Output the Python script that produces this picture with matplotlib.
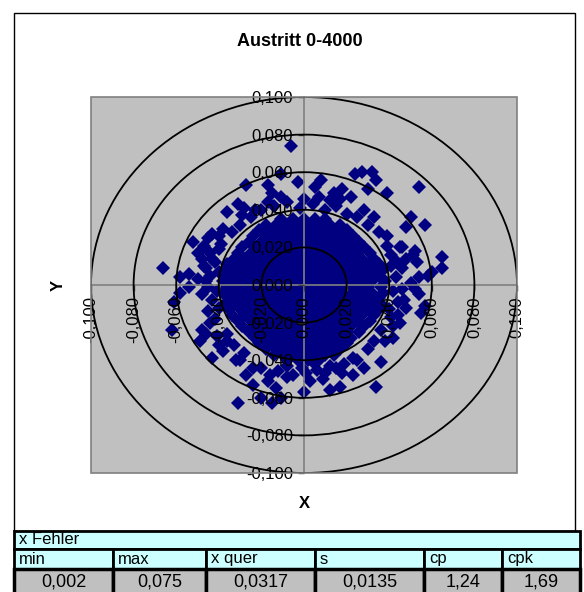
import numpy as np
import matplotlib.pyplot as plt
from matplotlib.patches import Circle, Rectangle
from matplotlib.ticker import FuncFormatter, MultipleLocator

plt.rcParams['font.family'] = ['Liberation Sans', 'DejaVu Sans']

title = "Austritt 0-4000"
ring_radii = [0.02, 0.04, 0.06, 0.08, 0.10]

# dense centre of the cloud, read row by row (values in 1/1000)
core_y = [35, 32, 29, 26, 23, 20, 17, 14, 11, 8, 5, 2, -1,
          -4, -7, -10, -13, -16, -19, -22, -25, -28, -31, -34, -37, -40]
core_x = [
    [-11, -5, 0, 5, 10],
    [-18, -13, -8, -3, 2, 7, 12, 17],
    [-21, -15, -10, -5, 0, 5, 10, 15, 20],
    [-24, -18, -13, -8, -3, 2, 7, 12, 17, 23],
    [-26, -20, -15, -10, -5, 0, 5, 10, 15, 20, 26],
    [-29, -23, -18, -13, -8, -3, 2, 7, 12, 17, 22, 28],
    [-31, -25, -20, -15, -10, -5, 0, 5, 10, 15, 20, 25, 31],
    [-33, -28, -23, -18, -13, -8, -3, 2, 7, 12, 17, 22, 27, 33],
    [-36, -30, -25, -20, -15, -10, -5, 0, 5, 10, 15, 20, 25, 30, 35],
    [-37, -33, -28, -23, -18, -13, -8, -3, 2, 7, 12, 17, 22, 27, 32, 37],
    [-35, -30, -25, -20, -15, -10, -5, 0, 5, 10, 15, 20, 25, 30, 35],
    [-38, -33, -28, -23, -18, -13, -8, -3, 2, 7, 12, 17, 22, 27, 32, 38],
    [-36, -30, -25, -20, -15, -10, -5, 0, 5, 10, 15, 20, 25, 30, 36],
    [-38, -33, -28, -23, -18, -13, -8, -3, 2, 7, 12, 17, 22, 27, 32, 37],
    [-35, -30, -25, -20, -15, -10, -5, 0, 5, 10, 15, 20, 25, 30, 35],
    [-37, -33, -28, -23, -18, -13, -8, -3, 2, 7, 12, 17, 22, 27, 32, 36],
    [-35, -30, -25, -20, -15, -10, -5, 0, 5, 10, 15, 20, 25, 30, 35],
    [-34, -28, -23, -18, -13, -8, -3, 2, 7, 12, 17, 22, 27, 33],
    [-31, -25, -20, -15, -10, -5, 0, 5, 10, 15, 20, 25, 31],
    [-29, -23, -18, -13, -8, -3, 2, 7, 12, 17, 22, 28],
    [-26, -20, -15, -10, -5, 0, 5, 10, 15, 20, 26],
    [-23, -18, -13, -8, -3, 2, 7, 12, 17, 22],
    [-21, -15, -10, -5, 0, 5, 10, 15, 20],
    [-18, -13, -8, -3, 2, 7, 12, 17],
    [-14, -10, -5, 0, 5, 10, 14],
    [-8, -3, 2, 7],
]

# scattered points around the centre (values in 1/1000)
outer_x = [-6, -27, -17, -11, -15, -3, 8, 5, 14, 24, 27, 32, 34, 39, 30, 18, 22, 7, 54,
           -31, -36, -29, -43, -40, -52, -47, -50, -66, -58, -54, -50, -40, -48, -43,
           -54, -58, -61, -46, -45,
           -62, -48, -49, -43, -38, -30, -27, -24, -31, -17, -13, -11, -20, -15, -8,
           54, 57, 55, 41, 36, 23, 34, 17, 12, 10, 3, 15, 19, 0, -1, 23, 4,
           50, 57, 48, 65, 65, 60, 39, 51, 45, 43, 53, 58, 52, 48, 52, 46, 54, 50,
           -42, -44, -41, -43, -40, -42, -39, -45, -40, -46,
           41, 43, 42, 44, 40, 41, 39, 46, 42,
           -20, -14, -8, -2, 4, 10, 15, 20, 25, -25, -30, 30, 35, -34,
           -20, -12, -5, 6, 12, 25, -28, 30, 33, -33, -36, 36,
           -44, -46, -41, -47, -44, -48, -45, -38, -36, -40,
           44, 42, 46, 47, 38, 45, 48,
           -17, -11, 0, 12, 17, -23, 28, 33, -28,
           -16, -8, 1, 9, 18, -24, 28, -32]
outer_y = [74, 53, 53, 59, 49, 55, 56, 52, 49, 59, 60, 60, 56, 49, 51, 51, 47, 47, 52,
           43, 39, 37, 27, 26, 23, 21, 17, 9, 4, 6, 3, 19, 14, 14,
           -1, -4, -9, 9, -1,
           -24, -24, -30, -39, -35, -40, -48, -53, -63, -51, -55, -60, -60, -63, -49,
           -5, -11, -15, -17, -41, -48, -54, -54, -56, -47, -51, -44, -42, -57, -44, -39, -41,
           36, 32, 31, 15, 9, 7, 21, 16, 20, 13, 12, 5, -2, 14, 18, 9, 4, 1,
           12, 5, -3, -8, -12, -18, 22, -14, 7, 2,
           10, 4, -3, -9, -13, 16, 26, -2, -22,
           40, 42, 44, 41, 43, 40, 42, 38, 36, 36, 32, 32, 28, 28,
           -44, -46, -48, -45, -43, -40, -36, -34, -30, -32, -26, -24,
           -20, -26, -27, 10, 17, -5, 25, 30, -30, -32,
           -16, -28, 20, -8, -30, -20, -12,
           44, 47, 46, 45, 46, 40, 40, 36, 41,
           -48, -43, -47, -50, -47, -44, -44, -40]

table_title = "x Fehler"
stat_names = ["min", "max", "x quer", "s", "cp", "cpk"]
stat_values = ["0,002", "0,075", "0,0317", "0,0135", "1,24", "1,69"]

xs = [x for row in core_x for x in row] + outer_x
ys = [yv for yv, row in zip(core_y, core_x) for x in row] + outer_y
xs = np.array(xs) / 1000.
ys = np.array(ys) / 1000.

W, H = 584, 592
fig = plt.figure(figsize=(W / 100, H / 100), dpi=100)

# background layer in pixel coordinates: frame, titles, table
bg = fig.add_axes([0, 0, 1, 1])
bg.set_xlim(0, W)
bg.set_ylim(H, 0)
bg.axis('off')
bg.add_patch(Rectangle((13.5, 12.5), 561, 518, fill=False, ec='black', lw=1))
bg.text(300, 42, title, ha='center', va='center', fontsize=13, fontweight='bold')
bg.text(304, 503, 'X', ha='center', va='center', fontsize=12, fontweight='bold')
bg.text(58, 285, 'Y', ha='center', va='center', fontsize=12, fontweight='bold', rotation=90)

cols = [14, 113, 206, 315, 424, 502, 580]
rows = [531, 549, 569, 600]
bg.add_patch(Rectangle((cols[0], rows[0]), cols[-1] - cols[0], rows[1] - rows[0],
                       fc='#CCFFFF', ec='black', lw=2))
bg.text(cols[0] + 5, (rows[0] + rows[1]) / 2, table_title, ha='left', va='center', fontsize=12)
for i in range(len(stat_names)):
    w = cols[i + 1] - cols[i]
    bg.add_patch(Rectangle((cols[i], rows[1]), w, rows[2] - rows[1], fc='#CCFFFF', ec='black', lw=2))
    bg.add_patch(Rectangle((cols[i], rows[2]), w, rows[3] - rows[2], fc='#C0C0C0', ec='black', lw=2.5))
    bg.text(cols[i] + 5, (rows[1] + rows[2]) / 2, stat_names[i], ha='left', va='center', fontsize=12)
    bg.text(cols[i] + w / 2, 582, stat_values[i], ha='center', va='center', fontsize=13)

# scatter plot area
ax = fig.add_axes([91 / W, 1 - 473 / H, 426 / W, 376 / H])
ax.set_facecolor('#C0C0C0')
ax.set_xlim(-0.1, 0.1)
ax.set_ylim(-0.1, 0.1)
ax.set_axisbelow(False)

ax.plot(xs, ys, 'D', color='#000080', ms=7.2, mew=0, ls='none', zorder=2)
for r in ring_radii:
    ax.add_patch(Circle((0, 0), r, fill=False, ec='black', lw=1.3, zorder=3))

ax.add_patch(Rectangle((0, 0), 1, 1, transform=ax.transAxes, fill=False,
                       ec='#808080', lw=1.2, zorder=4, clip_on=False))
ax.spines['left'].set_position(('data', 0))
ax.spines['bottom'].set_position(('data', 0))
ax.spines['top'].set_visible(False)
ax.spines['right'].set_visible(False)
for s in ['left', 'bottom']:
    ax.spines[s].set_color('#808080')
    ax.spines[s].set_linewidth(1.2)

fmt = FuncFormatter(lambda v, p: ('%.3f' % (0.0 if abs(v) < 1e-9 else v)).replace('.', ','))
ax.xaxis.set_major_locator(MultipleLocator(0.02))
ax.yaxis.set_major_locator(MultipleLocator(0.02))
ax.xaxis.set_major_formatter(fmt)
ax.yaxis.set_major_formatter(fmt)
ax.tick_params(direction='out', length=4, width=1, color='#404040', labelsize=12, pad=4)
for lbl in ax.get_xticklabels():
    lbl.set_rotation(90)

fig.savefig('out.png', dpi=100)
